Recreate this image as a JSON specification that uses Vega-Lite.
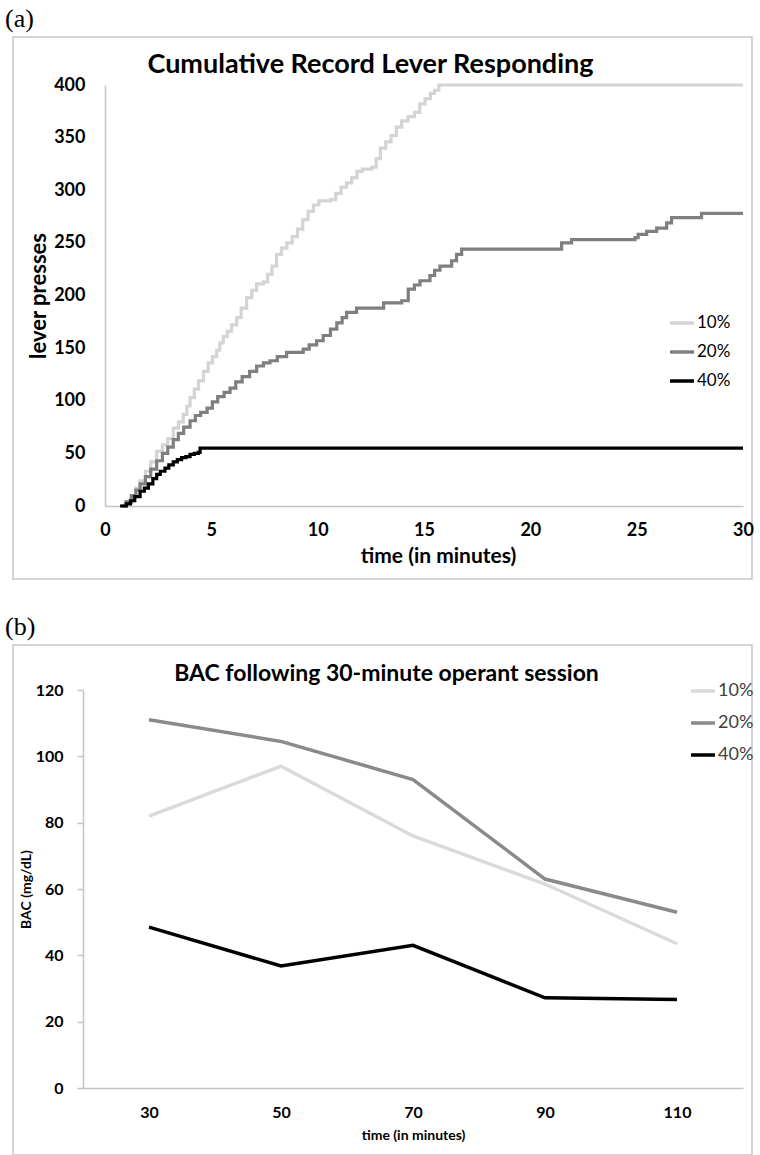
{
  "$schema": "https://vega.github.io/schema/vega-lite/v6.json",
  "background": "white",
  "padding": {"left": 5, "top": 6, "right": 8, "bottom": 0},
  "spacing": 34,
  "resolve": {"scale": {"color": "independent"}, "legend": {"color": "independent"}},
  "config": {
    "view": {"stroke": "#c8c8c8", "strokeWidth": 1.5},
    "font": "Lato",
    "axis": {"labelFont": "Lato", "titleFont": "Lato", "labelColor": "#000", "titleColor": "#000", "grid": false, "domainColor": "#c4c4c4", "domainWidth": 1.5, "labelFlush": false, "labelOverlap": false}
  },
  "vconcat": [
    {
      "title": {"text": "(a)", "anchor": "start", "frame": "group", "font": "Liberation Serif", "fontSize": 26, "fontWeight": "normal", "color": "#000", "offset": 4, "dx": -8},
      "vconcat": [
        {
          "width": 739,
          "height": 542,
          "title": {"text": "Cumulative Record Lever Responding", "font": "Lato", "fontSize": 27, "fontWeight": "bold", "color": "#000", "offset": -42, "anchor": "middle", "frame": "group", "dx": -12},
          "data": {"values": [
            {"c":"10%","t":0.7,"v":0},{"c":"10%","t":0.95,"v":4},{"c":"10%","t":1.2,"v":10},{"c":"10%","t":1.45,"v":17},{"c":"10%","t":1.65,"v":24},{"c":"10%","t":1.9,"v":33},{"c":"10%","t":2.15,"v":42},{"c":"10%","t":2.43,"v":52},{"c":"10%","t":2.7,"v":58},{"c":"10%","t":2.95,"v":64},{"c":"10%","t":3.21,"v":74},{"c":"10%","t":3.45,"v":80},{"c":"10%","t":3.68,"v":87},{"c":"10%","t":3.85,"v":95},{"c":"10%","t":4.0,"v":103},{"c":"10%","t":4.2,"v":111},{"c":"10%","t":4.4,"v":119},{"c":"10%","t":4.63,"v":128},{"c":"10%","t":4.85,"v":136},{"c":"10%","t":5.05,"v":142},{"c":"10%","t":5.25,"v":148},{"c":"10%","t":5.4,"v":155},{"c":"10%","t":5.56,"v":161},{"c":"10%","t":5.75,"v":166},{"c":"10%","t":5.95,"v":172},{"c":"10%","t":6.19,"v":179},{"c":"10%","t":6.4,"v":188},{"c":"10%","t":6.66,"v":198},{"c":"10%","t":6.9,"v":205},{"c":"10%","t":7.13,"v":211},{"c":"10%","t":7.44,"v":213},{"c":"10%","t":7.65,"v":220},{"c":"10%","t":7.85,"v":228},{"c":"10%","t":8.07,"v":239},{"c":"10%","t":8.3,"v":245},{"c":"10%","t":8.55,"v":250},{"c":"10%","t":8.8,"v":256},{"c":"10%","t":9.05,"v":263},{"c":"10%","t":9.3,"v":272},{"c":"10%","t":9.55,"v":280},{"c":"10%","t":9.8,"v":286},{"c":"10%","t":10.05,"v":290},{"c":"10%","t":10.6,"v":291},{"c":"10%","t":10.85,"v":297},{"c":"10%","t":11.1,"v":303},{"c":"10%","t":11.35,"v":307},{"c":"10%","t":11.6,"v":312},{"c":"10%","t":11.85,"v":318},{"c":"10%","t":12.1,"v":320},{"c":"10%","t":12.55,"v":322},{"c":"10%","t":12.75,"v":330},{"c":"10%","t":12.95,"v":340},{"c":"10%","t":13.2,"v":346},{"c":"10%","t":13.45,"v":352},{"c":"10%","t":13.7,"v":360},{"c":"10%","t":13.95,"v":366},{"c":"10%","t":14.25,"v":370},{"c":"10%","t":14.55,"v":374},{"c":"10%","t":14.8,"v":382},{"c":"10%","t":15.05,"v":387},{"c":"10%","t":15.3,"v":392},{"c":"10%","t":15.5,"v":395},{"c":"10%","t":15.7,"v":400},{"c":"10%","t":30,"v":400},
            {"c":"20%","t":0.78,"v":0},{"c":"20%","t":1.0,"v":4},{"c":"20%","t":1.25,"v":10},{"c":"20%","t":1.45,"v":15},{"c":"20%","t":1.65,"v":21},{"c":"20%","t":1.9,"v":28},{"c":"20%","t":2.15,"v":35},{"c":"20%","t":2.43,"v":43},{"c":"20%","t":2.7,"v":50},{"c":"20%","t":2.95,"v":56},{"c":"20%","t":3.21,"v":63},{"c":"20%","t":3.45,"v":69},{"c":"20%","t":3.7,"v":75},{"c":"20%","t":4.0,"v":81},{"c":"20%","t":4.25,"v":86},{"c":"20%","t":4.5,"v":89},{"c":"20%","t":4.8,"v":93},{"c":"20%","t":5.05,"v":99},{"c":"20%","t":5.3,"v":104},{"c":"20%","t":5.6,"v":108},{"c":"20%","t":5.88,"v":112},{"c":"20%","t":6.15,"v":118},{"c":"20%","t":6.45,"v":123},{"c":"20%","t":6.8,"v":128},{"c":"20%","t":7.13,"v":133},{"c":"20%","t":7.45,"v":136},{"c":"20%","t":7.76,"v":138},{"c":"20%","t":8.1,"v":142},{"c":"20%","t":8.54,"v":146},{"c":"20%","t":9.32,"v":149},{"c":"20%","t":9.6,"v":153},{"c":"20%","t":9.95,"v":157},{"c":"20%","t":10.26,"v":162},{"c":"20%","t":10.6,"v":168},{"c":"20%","t":10.9,"v":174},{"c":"20%","t":11.15,"v":179},{"c":"20%","t":11.36,"v":184},{"c":"20%","t":11.83,"v":188},{"c":"20%","t":13.1,"v":193},{"c":"20%","t":13.95,"v":195},{"c":"20%","t":14.26,"v":206},{"c":"20%","t":14.55,"v":210},{"c":"20%","t":14.81,"v":214},{"c":"20%","t":15.28,"v":219},{"c":"20%","t":15.5,"v":224},{"c":"20%","t":15.75,"v":228},{"c":"20%","t":16.3,"v":233},{"c":"20%","t":16.53,"v":239},{"c":"20%","t":16.77,"v":244},{"c":"20%","t":21.3,"v":244},{"c":"20%","t":21.47,"v":250},{"c":"20%","t":21.94,"v":253},{"c":"20%","t":24.92,"v":255},{"c":"20%","t":25.07,"v":258},{"c":"20%","t":25.47,"v":261},{"c":"20%","t":25.94,"v":264},{"c":"20%","t":26.41,"v":269},{"c":"20%","t":26.64,"v":274},{"c":"20%","t":28.0,"v":274},{"c":"20%","t":28.05,"v":278},{"c":"20%","t":30,"v":278},
            {"c":"40%","t":0.71,"v":0},{"c":"40%","t":1.0,"v":2},{"c":"40%","t":1.2,"v":5},{"c":"40%","t":1.4,"v":9},{"c":"40%","t":1.65,"v":14},{"c":"40%","t":1.85,"v":17},{"c":"40%","t":2.04,"v":21},{"c":"40%","t":2.25,"v":26},{"c":"40%","t":2.43,"v":30},{"c":"40%","t":2.6,"v":33},{"c":"40%","t":2.82,"v":36},{"c":"40%","t":3.0,"v":39},{"c":"40%","t":3.21,"v":42},{"c":"40%","t":3.4,"v":44},{"c":"40%","t":3.6,"v":46},{"c":"40%","t":3.8,"v":47},{"c":"40%","t":4.0,"v":49},{"c":"40%","t":4.2,"v":50},{"c":"40%","t":4.39,"v":51},{"c":"40%","t":4.47,"v":55},{"c":"40%","t":30,"v":55}
          ]},
          "mark": {"type": "line", "interpolate": "step-after", "strokeWidth": 3.2},
          "encoding": {
            "x": {"field": "t", "type": "quantitative", "scale": {"domain": [0, 30], "range": [92, 730], "nice": false, "zero": false},
              "axis": {"orient": "bottom", "offset": -73, "values": [0, 5, 10, 15, 20, 25, 30], "ticks": false, "tickSize": 0, "labelFontSize": 18, "labelFontWeight": "bold", "labelPadding": 15, "title": "time (in minutes)", "titleFontSize": 21, "titleFontWeight": "bold", "titlePadding": 6, "titleX": 425}},
            "y": {"field": "v", "type": "quantitative", "scale": {"domain": [0, 400], "range": [469, 48], "nice": false},
              "axis": {"orient": "left", "offset": -92, "values": [0, 50, 100, 150, 200, 250, 300, 350, 400], "ticks": false, "tickSize": 0, "labelFontSize": 18, "labelFontWeight": "bold", "labelPadding": 20, "title": "lever presses", "titleFontSize": 22, "titleFontWeight": "bold", "titlePadding": 3}},
            "color": {"field": "c", "type": "nominal", "scale": {"domain": ["10%", "20%", "40%"], "range": ["#d4d4d4", "#7f7f7f", "#000000"]},
              "legend": {"orient": "none", "legendX": 655, "legendY": 272, "title": null, "symbolType": "stroke", "symbolSize": 576, "symbolStrokeWidth": 3.5, "labelFontSize": 17, "labelFont": "Lato", "labelColor": "#000", "labelOffset": 1, "rowPadding": 7, "padding": 0}}
          }
        }
      ]
    },
    {
      "title": {"text": "(b)", "anchor": "start", "frame": "group", "font": "Liberation Serif", "fontSize": 26, "fontWeight": "normal", "color": "#000", "offset": 4, "dx": -8},
      "vconcat": [
        {
          "width": 739,
          "height": 510,
          "title": {"text": "BAC following 30-minute operant session", "font": "Lato", "fontSize": 23, "fontWeight": "bold", "color": "#000", "offset": -41, "anchor": "middle", "frame": "group", "dx": 4},
          "data": {"values": [
            {"c":"10%","time":30,"bac":82},{"c":"10%","time":50,"bac":97},{"c":"10%","time":70,"bac":76},{"c":"10%","time":90,"bac":61.5},{"c":"10%","time":110,"bac":43.5},
            {"c":"20%","time":30,"bac":111},{"c":"20%","time":50,"bac":104.5},{"c":"20%","time":70,"bac":93},{"c":"20%","time":90,"bac":63},{"c":"20%","time":110,"bac":53},
            {"c":"40%","time":30,"bac":48.5},{"c":"40%","time":50,"bac":36.8},{"c":"40%","time":70,"bac":43},{"c":"40%","time":90,"bac":27.2},{"c":"40%","time":110,"bac":26.7}
          ]},
          "mark": {"type": "line", "strokeWidth": 3.5},
          "encoding": {
            "x": {"field": "time", "type": "quantitative", "scale": {"domain": [20, 120], "range": [70, 730], "nice": false, "zero": false},
              "axis": {"orient": "bottom", "offset": -67, "values": [30, 50, 70, 90, 110], "ticks": false, "tickSize": 0, "labelFontSize": 16, "labelFontWeight": "bold", "labelPadding": 16, "title": "time (in minutes)", "titleFontSize": 14, "titleFontWeight": "bold", "titlePadding": 8}},
            "y": {"field": "bac", "type": "quantitative", "scale": {"domain": [0, 120], "range": [443, 45], "nice": false},
              "axis": {"orient": "left", "offset": -70, "values": [0, 20, 40, 60, 80, 100, 120], "ticks": true, "tickSize": 6, "tickColor": "#c4c4c4", "tickWidth": 1.5, "labelFontSize": 16, "labelFontWeight": "bold", "labelPadding": 14, "title": "BAC (mg/dL)", "titleFontSize": 14, "titleFontWeight": "bold", "titlePadding": 2}},
            "color": {"field": "c", "type": "nominal", "scale": {"domain": ["10%", "20%", "40%"], "range": ["#dadada", "#8a8a8a", "#000000"]},
              "legend": {"orient": "none", "legendX": 676, "legendY": 32, "title": null, "symbolType": "stroke", "symbolSize": 576, "symbolStrokeWidth": 3.5, "labelFontSize": 18, "labelFont": "Lato", "labelColor": "#404040", "labelOffset": 1, "rowPadding": 9, "padding": 0}}
          }
        }
      ]
    }
  ]
}
